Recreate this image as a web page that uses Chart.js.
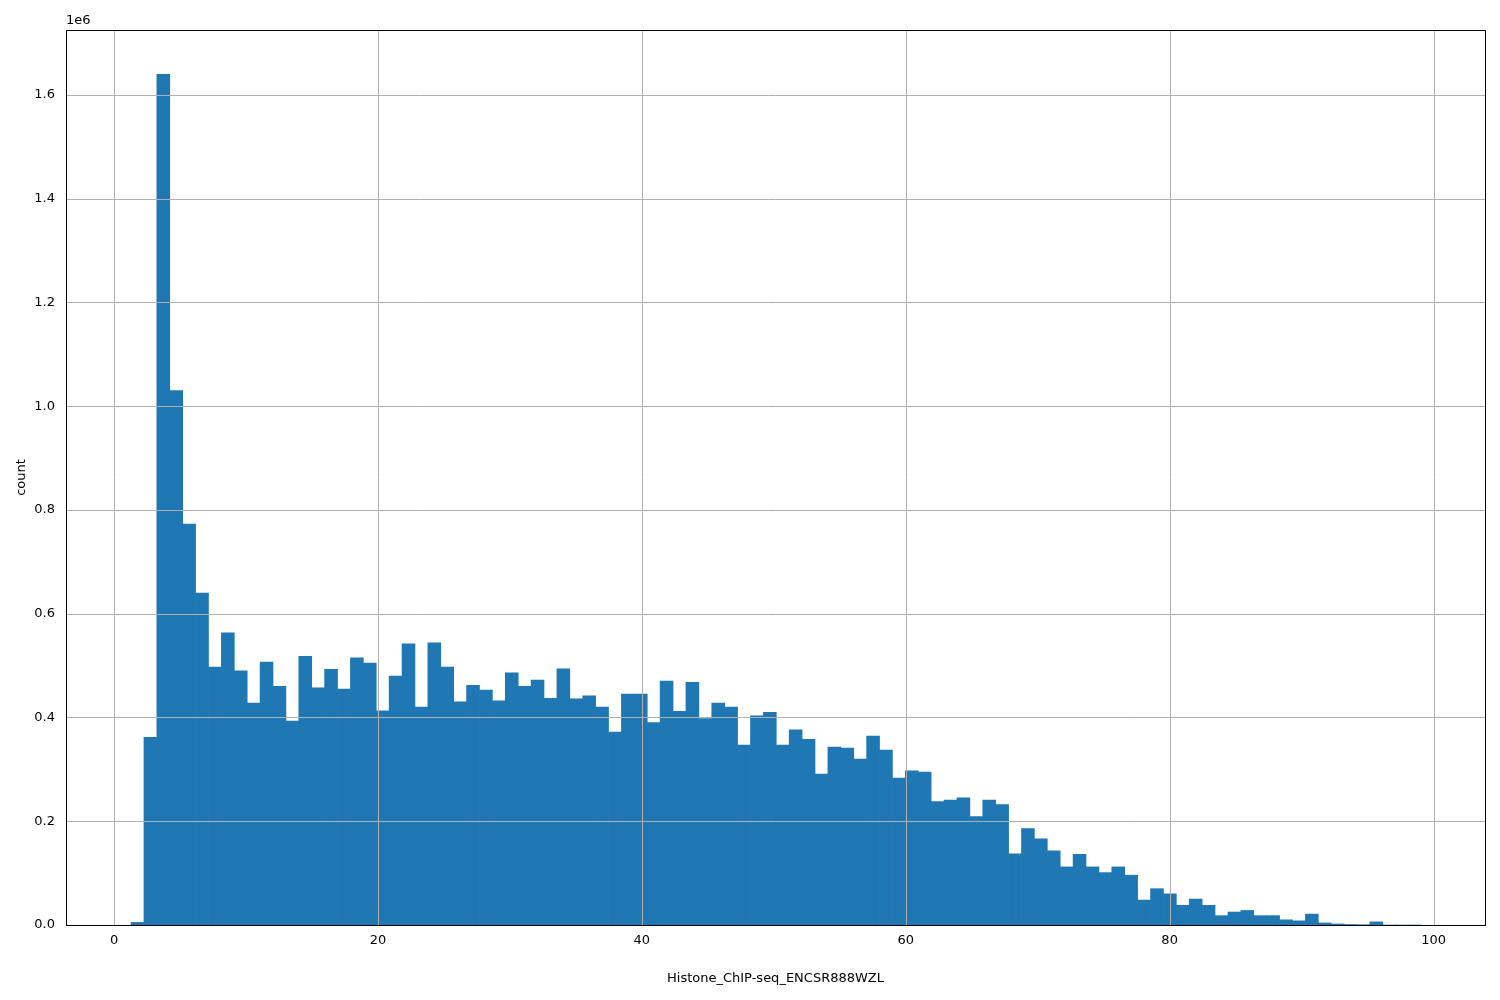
<!DOCTYPE html>
<html><head><script src="https://cdn.jsdelivr.net/npm/chart.js@4"></script>
<style>body{margin:0;background:#fff}</style></head>
<body><canvas id="c" width="1500" height="1000"></canvas>
<script>
const binStart = 1.29;
const binWidth = 0.978;
const counts = [0.005,0.362,1.64,1.03,0.773,0.64,0.497,0.563,0.49,0.428,0.507,0.46,0.393,0.518,0.457,0.493,0.455,0.515,0.505,0.413,0.48,0.542,0.42,0.544,0.497,0.43,0.462,0.453,0.432,0.486,0.46,0.472,0.437,0.494,0.436,0.442,0.42,0.372,0.445,0.445,0.39,0.47,0.412,0.468,0.398,0.428,0.42,0.347,0.403,0.41,0.347,0.376,0.358,0.291,0.343,0.341,0.32,0.364,0.337,0.283,0.297,0.295,0.238,0.241,0.245,0.209,0.241,0.232,0.137,0.186,0.166,0.143,0.112,0.136,0.112,0.101,0.112,0.096,0.048,0.07,0.06,0.038,0.05,0.038,0.018,0.025,0.028,0.018,0.018,0.01,0.008,0.021,0.004,0.002,0.001,0.0005,0.006,0,0,0].map(v=>v*1e6);
const xTicks = [0,20,40,60,80,100];
const yTicks = [0,0.2,0.4,0.6,0.8,1.0,1.2,1.4,1.6];
const data = counts.map((c,i)=>({x: binStart+(i+0.5)*binWidth, y:c}));
const gridOver = {id:'gridOver', afterDatasetsDraw(chart){
  const ctx=chart.ctx, a=chart.chartArea;
  ctx.save(); ctx.strokeStyle='#b0b0b0'; ctx.lineWidth=1;
  xTicks.forEach(t=>{const p=Math.round(chart.scales.x.getPixelForValue(t))+0.5;ctx.beginPath();ctx.moveTo(p,a.top);ctx.lineTo(p,a.bottom);ctx.stroke();});
  yTicks.forEach(t=>{const p=Math.round(chart.scales.y.getPixelForValue(t*1e6))+0.5;ctx.beginPath();ctx.moveTo(a.left,p);ctx.lineTo(a.right,p);ctx.stroke();});
  ctx.strokeStyle='#000'; ctx.strokeRect(Math.round(a.left)+0.5,Math.round(a.top)+0.5,Math.round(a.right-a.left),Math.round(a.bottom-a.top));
  ctx.fillStyle='#000'; ctx.font='13px "DejaVu Sans"'; ctx.textAlign='left'; ctx.textBaseline='bottom';
  ctx.fillText('1e6', a.left, a.top-3);
  ctx.restore();
}};
new Chart(document.getElementById('c'),{
  type:'bar',
  data:{datasets:[{data, backgroundColor:'#1f77b4', barPercentage:1, categoryPercentage:1, borderWidth:0}]},
  plugins:[gridOver],
  options:{responsive:false, animation:false,
    layout:{padding:{top:30,right:15,left:0,bottom:10}},
    plugins:{legend:{display:false},tooltip:{enabled:false}},
    scales:{
      x:{type:'linear',min:-3.64,max:103.9,offset:false,
        afterBuildTicks(s){s.ticks=xTicks.map(v=>({value:v}));},
        afterFit(s){s.height=65;},
        grid:{display:false,drawTicks:true},border:{display:false},
        ticks:{color:'#000',font:{family:'DejaVu Sans',size:13},maxRotation:0,padding:0},
        title:{display:true,text:'Histone_ChIP-seq_ENCSR888WZL',color:'#000',font:{family:'DejaVu Sans',size:13},padding:{top:10}}},
      y:{min:0,max:1.7253e6,
        afterBuildTicks(s){s.ticks=yTicks.map(v=>({value:v*1e6}));},
        afterFit(s){s.width=66;},
        grid:{display:false},border:{display:false},
        ticks:{color:'#000',font:{family:'DejaVu Sans',size:13},callback:v=>(v/1e6).toFixed(1)},
        title:{display:true,text:'count',color:'#000',font:{family:'DejaVu Sans',size:13},padding:{top:14,bottom:0}}}
    }}
});
</script></body></html>
